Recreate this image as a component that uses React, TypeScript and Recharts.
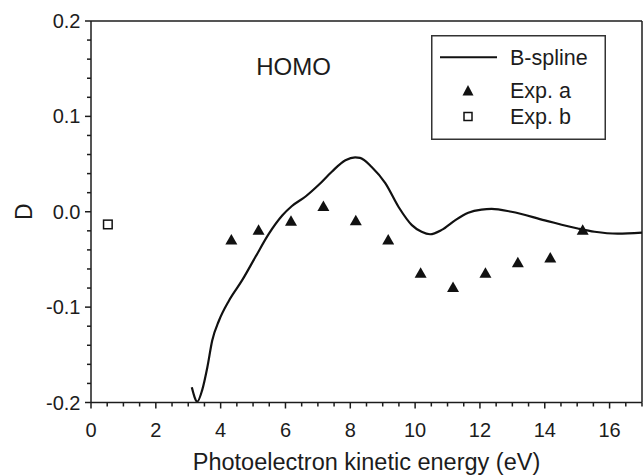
import React from 'react';
import {
  ComposedChart,
  Line,
  Scatter,
  XAxis,
  YAxis,
  ReferenceLine,
  ReferenceDot,
  Legend,
} from 'recharts';

const FONT = '"Liberation Sans", Arial, Helvetica, sans-serif';
const INK = '#1c1c1c';

// B-spline theory curve (x: eV, y: D)
const splineX = [
  3.11, 3.28, 3.43, 3.59, 3.74, 3.95, 4.26, 4.66, 5.08, 5.49, 5.9, 6.2, 6.62, 7.02,
  7.43, 7.85, 8.15, 8.3, 8.66, 9.08, 9.49, 9.9, 10.2, 10.46, 10.82, 11.23, 11.64,
  12.05, 12.36, 12.97, 14.0, 15.02, 15.54, 16.25, 17.0,
];
const splineY = [
  -0.184, -0.199, -0.187, -0.163, -0.135, -0.114, -0.093, -0.072, -0.047, -0.023,
  -0.004, 0.006, 0.016, 0.028, 0.042, 0.054, 0.057, 0.0565, 0.047, 0.03, 0.005,
  -0.014, -0.021, -0.0236, -0.019, -0.009, -0.001, 0.0023, 0.003, 0.0, -0.009,
  -0.0176, -0.021, -0.023, -0.0218,
];

// Experiment a (filled triangles)
const expAX = [4.33, 5.17, 6.17, 7.17, 8.17, 9.17, 10.17, 11.17, 12.17, 13.17, 14.17, 15.17];
const expAY = [-0.029, -0.019, -0.0095, 0.006, -0.009, -0.029, -0.064, -0.079, -0.064, -0.053, -0.048, -0.019];

// Experiment b (open square)
const expBX = [0.52];
const expBY = [-0.0133];

const xTicks = [
  0, 0.5, 1, 1.5, 2, 2.5, 3, 3.5, 4, 4.5, 5, 5.5, 6, 6.5, 7, 7.5, 8, 8.5, 9, 9.5, 10,
  10.5, 11, 11.5, 12, 12.5, 13, 13.5, 14, 14.5, 15, 15.5, 16, 16.5, 17,
];
const xLabels = [0, 2, 4, 6, 8, 10, 12, 14, 16];
const yTicks = [
  -0.2, -0.18, -0.16, -0.14, -0.12, -0.1, -0.08, -0.06, -0.04, -0.02, 0, 0.02, 0.04,
  0.06, 0.08, 0.1, 0.12, 0.14, 0.16, 0.18, 0.2,
];
const yLabels = [-0.2, -0.1, 0, 0.1, 0.2];

const splineData = splineX.map((x, i) => ({ x, y: splineY[i] }));
const expAData = expAX.map((x, i) => ({ x, y: expAY[i] }));
const expBData = expBX.map((x, i) => ({ x, y: expBY[i] }));

const near = (a: number, list: number[]) => list.some((v) => Math.abs(v - a) < 1e-6);

const XTick = (props: any) => {
  const { x, y, payload } = props;
  const v = payload.value as number;
  const major = near(v, xLabels);
  return (
    <g>
      <line x1={x} x2={x} y1={y} y2={y + (major ? 6 : 4)} stroke={INK} strokeWidth={1.5} />
      {major && (
        <text x={x} y={y + 34} textAnchor="middle" fontSize={20} fill={INK} fontFamily={FONT}>
          {String(v)}
        </text>
      )}
    </g>
  );
};

const YTick = (props: any) => {
  const { x, y, payload } = props;
  const v = payload.value as number;
  const major = near(v, yLabels);
  return (
    <g>
      <line x1={x - (major ? 6 : 4)} x2={x} y1={y} y2={y} stroke={INK} strokeWidth={1.5} />
      {major && (
        <text x={x - 10.5} y={y + 7} textAnchor="end" fontSize={20} fill={INK} fontFamily={FONT}>
          {v.toFixed(1)}
        </text>
      )}
    </g>
  );
};

const Triangle = (props: any) => {
  const { cx, cy } = props;
  if (cx == null || cy == null) return null;
  return <polygon points={`${cx},${cy - 5.5} ${cx - 6},${cy + 5} ${cx + 6},${cy + 5}`} fill="#111" />;
};

const Square = (props: any) => {
  const { cx, cy } = props;
  if (cx == null || cy == null) return null;
  return <rect x={cx - 4.3} y={cy - 4.3} width={8.6} height={8.6} fill="#fff" stroke="#111" strokeWidth={1.5} />;
};

const LegendBox = () => (
  <svg width={175} height={105} style={{ display: 'block' }}>
    <rect x={0.75} y={0.75} width={173.5} height={103.5} fill="#fff" stroke="#333" strokeWidth={1.5} />
    <line x1={9} x2={66} y1={22.2} y2={22.2} stroke="#111" strokeWidth={2} />
    <text x={79} y={29.8} fontSize={21.5} fill={INK} fontFamily={FONT}>B-spline</text>
    <polygon points="37,50 31.5,60.5 42.5,60.5" fill="#111" />
    <text x={79} y={62.8} fontSize={21.5} fill={INK} fontFamily={FONT}>Exp. a</text>
    <rect x={33} y={77.5} width={8} height={8} fill="#fff" stroke="#111" strokeWidth={1.5} />
    <text x={79} y={89.3} fontSize={21.5} fill={INK} fontFamily={FONT}>Exp. b</text>
  </svg>
);

export default function App() {
  return (
    <div style={{ position: 'absolute', left: 0, top: 0, background: '#fff' }}>
      <ComposedChart width={643} height={476} margin={{ top: 21, right: 1, bottom: 0, left: 0 }}>
        <XAxis
          type="number"
          dataKey="x"
          domain={[0, 17]}
          ticks={xTicks}
          interval={0}
          tick={<XTick />}
          tickLine={false}
          tickSize={0}
          tickMargin={0}
          height={73.5}
          axisLine={{ stroke: INK, strokeWidth: 1.5 }}
          allowDataOverflow
          label={{
            content: (p: any) => {
              const vb = p.viewBox || { x: 91, y: 402.5, width: 551, height: 73.5 };
              return (
                <text
                  x={vb.x + vb.width / 2}
                  y={vb.y + vb.height - 6}
                  textAnchor="middle"
                  fontSize={23.5}
                  fill={INK}
                  fontFamily={FONT}
                >
                  Photoelectron kinetic energy (eV)
                </text>
              );
            },
          }}
        />
        <YAxis
          type="number"
          dataKey="y"
          domain={[-0.2, 0.2]}
          ticks={yTicks}
          interval={0}
          tick={<YTick />}
          tickLine={false}
          tickSize={0}
          tickMargin={0}
          width={91}
          axisLine={{ stroke: INK, strokeWidth: 1.5 }}
          allowDataOverflow
          label={{
            content: (p: any) => {
              const vb = p.viewBox || { x: 0, y: 21, width: 91, height: 381.5 };
              const cx = vb.x + 23.5;
              const cy = vb.y + vb.height / 2;
              return (
                <text
                  x={cx}
                  y={cy}
                  transform={`rotate(-90 ${cx} ${cy})`}
                  textAnchor="middle"
                  dominantBaseline="central"
                  fontSize={23}
                  fill={INK}
                  fontFamily={FONT}
                >
                  D
                </text>
              );
            },
          }}
        />
        <ReferenceLine y={0.2} stroke={INK} strokeWidth={1.5} />
        <ReferenceLine x={17} stroke={INK} strokeWidth={1.5} />
        <ReferenceDot
          x={6.25}
          y={0.152}
          r={0}
          fill="none"
          stroke="none"
          label={{ value: 'HOMO', position: 'center', fontSize: 24, fill: INK, fontFamily: FONT }}
        />
        <Line
          data={splineData}
          dataKey="y"
          type="monotone"
          stroke="#111"
          strokeWidth={2.2}
          dot={false}
          activeDot={false}
          isAnimationActive={false}
          legendType="line"
          name="B-spline"
        />
        <Scatter data={expAData} dataKey="y" shape={<Triangle />} isAnimationActive={false} name="Exp. a" />
        <Scatter data={expBData} dataKey="y" shape={<Square />} isAnimationActive={false} name="Exp. b" />
        <Legend
          layout="horizontal"
          verticalAlign="middle"
          align="center"
          content={() => <LegendBox />}
          wrapperStyle={{ position: 'absolute', left: 431, top: 34.5, width: 175, height: 105 }}
        />
      </ComposedChart>
    </div>
  );
}
